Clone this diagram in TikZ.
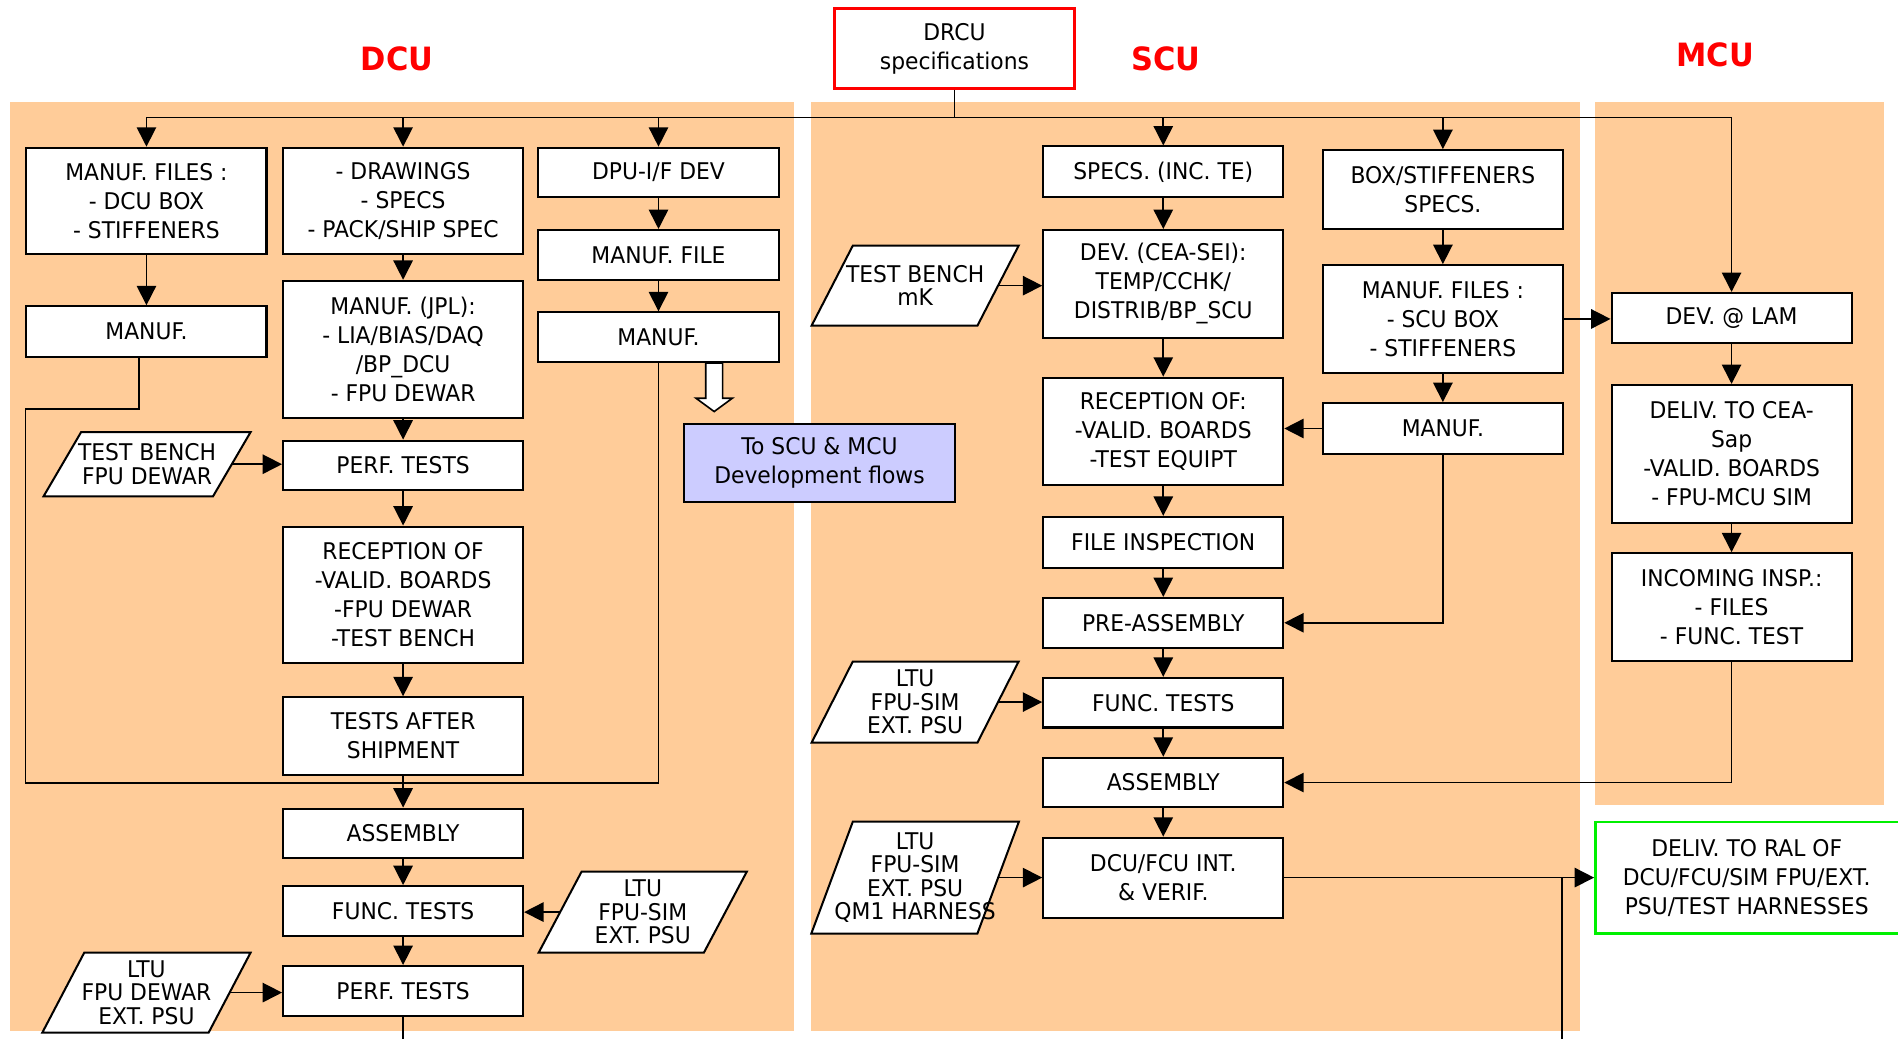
\documentclass[tikz,border=0pt]{standalone}
\usepackage{fontspec}
\setmainfont{DejaVu Sans}[FakeStretch=0.95]
\usetikzlibrary{arrows.meta,positioning}
\definecolor{peach}{RGB}{255,204,153}
\definecolor{lavender}{RGB}{204,204,255}
\definecolor{specred}{RGB}{255,0,0}
\definecolor{ralgreen}{RGB}{0,240,0}
\newcommand\flowfont{\fontsize{11.4}{14.4}\selectfont}
\newcommand\iofont{\fontsize{11.4}{11.6}\selectfont}
\newcommand\headfont{\fontsize{15.9}{18}\selectfont\bfseries}

\begin{document}
\begin{tikzpicture}[x=0.6pt,y=-0.6pt]
\tikzstyle{box}=[rectangle, draw=black, fill=white, line width=1pt, minimum width=119pt, inner sep=0pt, align=center, font=\flowfont]
\tikzstyle{iobox}=[draw=black, fill=white, line width=1pt]
\tikzstyle{iotext}=[font=\iofont, align=center, inner sep=0pt]
\tikzstyle{head}=[text=specred, font=\headfont, inner sep=0pt]
\tikzstyle{panel}=[fill=peach]
\tikzstyle{connect}=[-{Triangle[length=9.6pt,width=9.6pt]}, line width=0.8pt]
\tikzstyle{line}=[line width=0.8pt]
\useasboundingbox (0,0) rectangle (1568,858);
% background columns
\fill[panel] (8,84) rectangle (656,852);
\fill[panel] (670,84) rectangle (1305,852);
\fill[panel] (1318,84) rectangle (1556,665);
\node[head] (dcuhead) at (328,49) {DCU};
\node[head] (scuhead) at (963,48.5) {SCU};
\node[head] (mcuhead) at (1417,45) {MCU};
\node[box, draw=specred, line width=1.3pt, minimum height=39.6pt] (drcu) at (788.5,40) {DRCU\\specifications};
% DCU
\node[box, minimum height=52.8pt] (dfiles) at (121,166) {MANUF. FILES :\\- DCU BOX\\- STIFFENERS};
\node[box, minimum height=25.2pt] (dmanuf1) at (121,274) {MANUF.};
\node[box, minimum height=52.8pt] (ddraw) at (333,166) {- DRAWINGS\\- SPECS\\- PACK/SHIP SPEC};
\node[box, minimum height=67.8pt] (djpl) at (333,288.5) {MANUF. (JPL):\\- LIA/BIAS/DAQ\\/BP\_DCU\\- FPU DEWAR};
\node[box, minimum height=24.6pt] (dperf1) at (333,384.5) {PERF. TESTS};
\node[box, minimum height=67.8pt] (drecep) at (333,491.5) {RECEPTION OF\\-VALID. BOARDS\\-FPU DEWAR\\-TEST BENCH};
\node[box, minimum height=38.4pt] (dship) at (333,608) {TESTS AFTER\\SHIPMENT};
\node[box, minimum height=24.6pt] (dassy) at (333,688.5) {ASSEMBLY};
\node[box, minimum height=24.6pt] (dfunc) at (333,752.5) {FUNC. TESTS};
\node[box, minimum height=24.6pt] (dperf2) at (333,818.5) {PERF. TESTS};
\node[box, minimum height=24.6pt] (ddpu) at (544,142.5) {DPU-I/F DEV};
\node[box, minimum height=24.6pt] (dmfile) at (544,210.5) {MANUF. FILE};
\node[box, minimum height=24.6pt] (dmanuf3) at (544,278.5) {MANUF.};
\node[box, fill=lavender, minimum width=134.4pt, minimum height=39pt] (flows) at (677,382.5) {To SCU \& MCU\\Development flows};
% SCU
\node[box, minimum height=25.2pt] (sspecs) at (961,142) {SPECS. (INC. TE)};
\node[box, minimum height=53.4pt] (sdev) at (961,234.5) {DEV. (CEA-SEI):\\TEMP/CCHK/\\DISTRIB/BP\_SCU};
\node[box, minimum height=53.4pt] (srecep) at (961,356.5) {RECEPTION OF:\\-VALID. BOARDS\\-TEST EQUIPT};
\node[box, minimum height=25.2pt] (sfile) at (961,448) {FILE INSPECTION};
\node[box, minimum height=24.6pt] (spre) at (961,514.5) {PRE-ASSEMBLY};
\node[box, minimum height=24.6pt] (sfunc) at (961,580.5) {FUNC. TESTS};
\node[box, minimum height=24.6pt] (sassy) at (961,646.5) {ASSEMBLY};
\node[box, minimum height=39.6pt] (sint) at (961,725) {DCU/FCU INT.\\\& VERIF.};
\node[box, minimum height=39pt] (sbox) at (1192,156.5) {BOX/STIFFENERS\\SPECS.};
\node[box, minimum height=53.4pt] (sfiles) at (1192,263.5) {MANUF. FILES :\\- SCU BOX\\- STIFFENERS};
\node[box, minimum height=25.2pt] (smanuf) at (1192,354) {MANUF.};
% MCU
\node[box, minimum height=24.6pt] (mdev) at (1430.5,262.5) {DEV. @ LAM};
\node[box, minimum height=68.4pt] (mdeliv) at (1430.5,375) {DELIV. TO CEA-\\Sap\\-VALID. BOARDS\\- FPU-MCU SIM};
\node[box, minimum height=53.4pt] (minsp) at (1430.5,501.5) {INCOMING INSP.:\\- FILES\\- FUNC. TEST};
\node[box, draw=ralgreen, line width=1.3pt, minimum width=163.2pt, minimum height=55.2pt, label={[font=\flowfont, align=center, xshift=-6.6pt]center:DELIV. TO RAL OF\\DCU/FCU/SIM FPU/EXT.\\PSU/TEST HARNESSES}] (ral) at (1454,725) {};
% test equipment inputs: name/centre x/centre y/width/height/slant/text
\foreach \n/\cx/\cy/\w/\h/\e/\t in {
  pd1/121.5/383.5/171/53/31/{TEST BENCH\\FPU DEWAR},
  pd2/531/753.5/172/67/35.5/{LTU\\FPU-SIM\\EXT. PSU},
  pd3/121/820/172/66/34.6/{LTU\\FPU DEWAR\\EXT. PSU},
  ps1/756/236/171/66/34/{TEST BENCH\\mK},
  ps2/756/580/171/67/34/{LTU\\FPU-SIM\\EXT. PSU},
  ps3/756/725/171.5/92.5/34.3/{LTU\\FPU-SIM\\EXT. PSU\\QM1 HARNESS}}{
  \path[iobox] (\cx-\w/2,\cy+\h/2) -- (\cx+\w/2-\e,\cy+\h/2) -- (\cx+\w/2,\cy-\h/2) -- (\cx-\w/2+\e,\cy-\h/2) -- cycle;
  \node[iotext, minimum width={(\w-\e)*0.6pt}, minimum height={\h*0.6pt}] (\n) at (\cx,\cy) {\t};
}
% connectors
\coordinate (bus) at (788.5,97);
\coordinate (jd) at (333,647);
\coordinate (dout) at (333,870);
\coordinate (sout) at (1290.5,870);
\draw[line] (drcu) -- (bus);
\draw[line] (dfiles |- bus) -- (mdev |- bus);
\foreach \n in {dfiles,ddraw,ddpu,sspecs,sbox,mdev}
  \draw[connect] (\n |- bus) -- (\n);
\path[connect] (dfiles) edge (dmanuf1)
  (ddraw) edge (djpl)
  (djpl) edge (dperf1)
  (dperf1) edge (drecep)
  (drecep) edge (dship)
  (dship) edge (dassy)
  (dassy) edge (dfunc)
  (dfunc) edge (dperf2)
  (ddpu) edge (dmfile)
  (dmfile) edge (dmanuf3)
  (pd1.east) edge (pd1.east -| dperf1.west)
  (pd2.west) edge (pd2.west -| dfunc.east)
  (pd3.east) edge (pd3.east -| dperf2.west)
  (sspecs) edge (sdev)
  (sdev) edge (srecep)
  (srecep) edge (sfile)
  (sfile) edge (spre)
  (spre) edge (sfunc)
  (sfunc) edge (sassy)
  (sassy) edge (sint)
  (ps1.east) edge (ps1.east -| sdev.west)
  (ps2.east) edge (ps2.east -| sfunc.west)
  (ps3.east) edge (ps3.east -| sint.west)
  (sbox) edge (sfiles)
  (sfiles) edge (smanuf)
  (smanuf.west) edge (smanuf.west -| srecep.east)
  (sfiles.east) edge (sfiles.east -| mdev.west)
  (sint) edge (ral)
  (mdev) edge (mdeliv)
  (mdeliv) edge (minsp);
\draw[line] ([xshift=-3.6pt]dmanuf1.south) -- ++(0,42) -| (dmanuf1.west |- jd) -- (jd);
\draw[line] (dmanuf3) |- (jd);
\draw[line] (dperf2) -- (dout);
\draw[connect] (smanuf) |- (spre);
\draw[connect] (minsp) |- (sassy);
\draw[line] (sout) -- (sout |- sint.east);
% hollow arrow to the other flows
\draw[line, fill=white] (583,300) -- (597,300) -- (597,329) -- (605,329) -- (590,340) -- (575,329) -- (583,329) -- cycle;
\end{tikzpicture}
\end{document}
